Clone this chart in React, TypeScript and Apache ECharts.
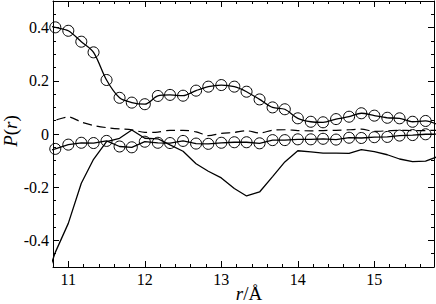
import React, { useEffect, useRef } from "react";
import * as echarts from "echarts";

const rValues = [10.67, 10.83, 11.0, 11.17, 11.33, 11.5, 11.67, 11.83, 12.0, 12.17, 12.33, 12.5, 12.67, 12.83, 13.0, 13.17, 13.33, 13.5, 13.67, 13.83, 14.0, 14.17, 14.33, 14.5, 14.67, 14.83, 15.0, 15.17, 15.33, 15.5, 15.67, 15.83];

const upperCircles = [0.41, 0.401, 0.388, 0.347, 0.307, 0.203, 0.136, 0.118, 0.112, 0.143, 0.147, 0.144, 0.163, 0.178, 0.184, 0.178, 0.159, 0.13, 0.1, 0.093, 0.059, 0.046, 0.044, 0.056, 0.065, 0.078, 0.069, 0.061, 0.059, 0.046, 0.049, 0.035];

const lowerCircles = [-0.07, -0.056, -0.04, -0.033, -0.034, -0.026, -0.047, -0.05, -0.029, -0.033, -0.034, -0.026, -0.036, -0.037, -0.033, -0.031, -0.031, -0.035, -0.023, -0.023, -0.02, -0.02, -0.018, -0.021, -0.014, -0.015, -0.012, -0.011, -0.006, -0.004, -0.001, 0.0];

const dashedValues = [0.04, 0.052, 0.064, 0.045, 0.032, 0.024, 0.019, 0.016, 0.006, 0.007, 0.014, 0.014, 0.008, -0.006, 0.002, 0.006, 0.012, 0.004, 0.014, 0.016, 0.013, 0.012, 0.013, 0.014, 0.016, 0.018, 0.01, 0.012, 0.014, 0.013, 0.013, 0.014];

const solidValues = [-0.58, -0.445, -0.336, -0.185, -0.095, -0.029, -0.016, 0.015, -0.016, -0.018, -0.041, -0.065, -0.112, -0.14, -0.165, -0.205, -0.233, -0.218, -0.16, -0.105, -0.063, -0.067, -0.072, -0.072, -0.073, -0.059, -0.066, -0.078, -0.094, -0.104, -0.102, -0.085];

const xTickLabels = [11, 12, 13, 14, 15];
const yTickLabels = [-0.4, -0.2, 0, 0.2, 0.4];

const X_MIN = 10.8;
const X_MAX = 15.78;
const Y_MIN = -0.5;
const Y_MAX = 0.5;

const FONT = "Liberation Serif";

function pairs(ys: number[]) {
  return rValues.map((x, i) => [x, ys[i]]);
}

export default function App() {
  const ref = useRef<HTMLDivElement>(null);
  useEffect(() => {
    if (!ref.current) return;
    const chart = echarts.init(ref.current, undefined, { renderer: "svg" });
    const lineColor = "#000";
    const majorX = (pos: "bottom" | "top", labels: boolean) => ({
      type: "value",
      position: pos,
      min: X_MIN,
      max: X_MAX,
      axisLine: { show: true, onZero: false, lineStyle: { color: lineColor, width: 1 } },
      axisTick: { show: true, inside: true, length: 6, customValues: xTickLabels, lineStyle: { color: lineColor } },
      axisLabel: {
        show: labels,
        customValues: xTickLabels,
        fontFamily: FONT,
        fontSize: 16,
        color: "#000",
        margin: 4,
      },
      splitLine: { show: false },
    });
    const minorX = (pos: "bottom" | "top") => ({
      type: "value",
      position: pos,
      min: X_MIN,
      max: X_MAX,
      interval: 0.2,
      axisLine: { show: false, onZero: false },
      axisTick: { show: true, inside: true, length: 3, lineStyle: { color: lineColor } },
      axisLabel: { show: false },
      splitLine: { show: false },
    });
    const majorY = (pos: "left" | "right", labels: boolean) => ({
      type: "value",
      position: pos,
      min: Y_MIN,
      max: Y_MAX,
      axisLine: { show: true, onZero: false, lineStyle: { color: lineColor, width: 1 } },
      axisTick: { show: true, inside: true, length: 6, customValues: yTickLabels, lineStyle: { color: lineColor } },
      axisLabel: {
        show: labels,
        customValues: yTickLabels,
        fontFamily: FONT,
        fontSize: 16,
        color: "#000",
        margin: 4,
        formatter: (v: number) => (v === 0 ? "0" : v.toFixed(1)),
      },
      splitLine: { show: false },
    });
    const minorY = (pos: "left" | "right") => ({
      type: "value",
      position: pos,
      min: Y_MIN,
      max: Y_MAX,
      interval: 0.05,
      axisLine: { show: false, onZero: false },
      axisTick: { show: true, inside: true, length: 3, lineStyle: { color: lineColor } },
      axisLabel: { show: false },
      splitLine: { show: false },
    });

    const circleSeries = (ys: number[], smooth: number) => ({
      type: "line",
      xAxisIndex: 0,
      yAxisIndex: 0,
      data: pairs(ys),
      smooth,
      symbol: "circle",
      symbolSize: 11,
      showAllSymbol: true,
      clip: true,
      lineStyle: { color: "#000", width: 1.3 },
      itemStyle: { color: "rgba(0,0,0,0)", borderColor: "#000", borderWidth: 1 },
      z: 3,
    });

    chart.setOption({
      animation: false,
      backgroundColor: "#fff",
      textStyle: { fontFamily: FONT },
      grid: { left: 53, right: 2, top: 1, bottom: 37, containLabel: false },
      xAxis: [majorX("bottom", true), minorX("bottom"), majorX("top", false), minorX("top")],
      yAxis: [majorY("left", true), minorY("left"), majorY("right", false), minorY("right")],
      series: [
        circleSeries(upperCircles, 0.3),
        circleSeries(lowerCircles, 0),
        {
          type: "line",
          xAxisIndex: 0,
          yAxisIndex: 0,
          data: pairs(dashedValues),
          smooth: 0.3,
          symbol: "none",
          clip: true,
          lineStyle: { color: "#000", width: 1.2, type: [9, 5] },
        },
        {
          type: "line",
          xAxisIndex: 0,
          yAxisIndex: 0,
          data: pairs(solidValues),
          symbol: "none",
          clip: true,
          lineStyle: { color: "#000", width: 1.3 },
        },
      ],
      graphic: [
        {
          type: "text",
          x: 10,
          y: 131,
          rotation: Math.PI / 2,
          style: {
            text: "{i|P}({i|r})",
            rich: { i: { fontStyle: "italic", fontFamily: FONT, fontSize: 19 } },
            fontFamily: FONT,
            fontSize: 19,
            fill: "#000",
            align: "center",
            verticalAlign: "middle",
          },
        },
        {
          type: "text",
          x: 249,
          y: 293,
          style: {
            text: "{i|r}/Å",
            rich: { i: { fontStyle: "italic", fontFamily: FONT, fontSize: 19 } },
            fontFamily: FONT,
            fontSize: 19,
            fill: "#000",
            align: "center",
            verticalAlign: "middle",
          },
        },
      ],
    });
    return () => chart.dispose();
  }, []);
  return <div ref={ref} style={{ width: 436, height: 304, position: "absolute", left: 0, top: 0 }} />;
}
